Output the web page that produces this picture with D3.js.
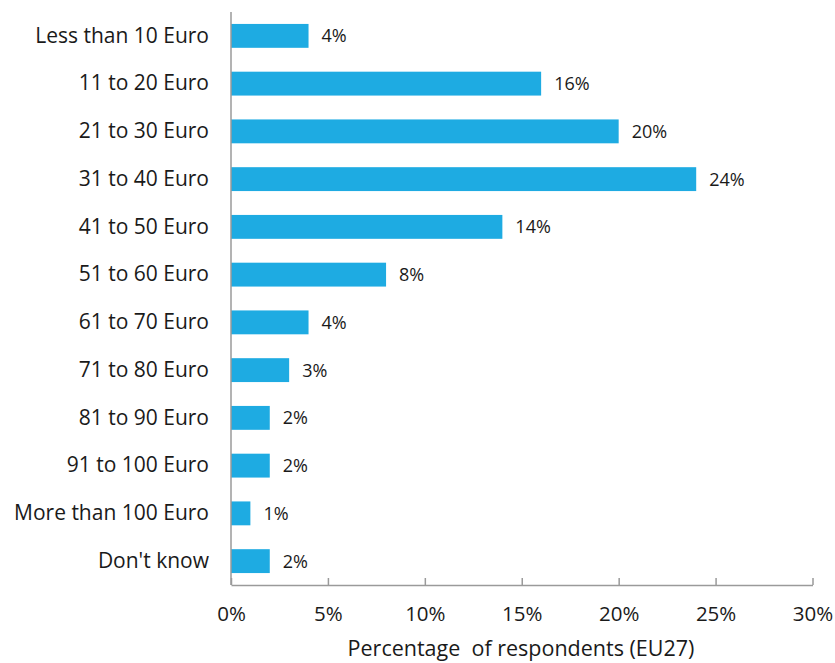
<!DOCTYPE html>
<html>
<head>
<meta charset="utf-8">
<script src="https://cdn.jsdelivr.net/npm/d3@7"></script>
<style>
  html, body { margin: 0; padding: 0; background: #fff; }
  svg text { font-family: "Open Sans", "Noto Sans", sans-serif; fill: #1a1a1a; }
</style>
</head>
<body>
<svg id="chart" width="835" height="663"></svg>
<script>
const categories = [
  "Less than 10 Euro", "11 to 20 Euro", "21 to 30 Euro", "31 to 40 Euro",
  "41 to 50 Euro", "51 to 60 Euro", "61 to 70 Euro", "71 to 80 Euro",
  "81 to 90 Euro", "91 to 100 Euro", "More than 100 Euro", "Don't know"
];
const values = [4, 16, 20, 24, 14, 8, 4, 3, 2, 2, 1, 2];
const tickValues = [0, 5, 10, 15, 20, 25, 30];
const axisTitle = "Percentage\u00a0 of respondents (EU27)";

const svg = d3.select("#chart");
const plot = { left: 231, right: 812.5, top: 12, bottom: 585 };

const x = d3.scaleLinear().domain([0, 30]).range([plot.left, plot.right]);
const y = d3.scaleBand().domain(categories).range([plot.top, plot.bottom]).paddingInner(0.5).paddingOuter(0.25);

// bars
svg.append("g").selectAll("rect")
  .data(values)
  .join("rect")
  .attr("x", x(0))
  .attr("y", (d, i) => y(categories[i]))
  .attr("width", d => x(d) - x(0))
  .attr("height", y.bandwidth())
  .attr("fill", "#1eabe2");

// value labels
svg.append("g").selectAll("text")
  .data(values)
  .join("text")
  .attr("x", d => x(d) + 13)
  .attr("y", (d, i) => y(categories[i]) + y.bandwidth() / 2)
  .attr("dy", "0.36em")
  .attr("font-size", 18)
  .text(d => d + "%");

// category axis
const yAxis = svg.append("g")
  .attr("transform", `translate(${plot.left},0)`)
  .call(d3.axisLeft(y).tickSize(0).tickPadding(22));
yAxis.select(".domain").attr("stroke", "#9a9a9a").attr("stroke-width", 1.5)
  .attr("d", `M0,${plot.top}V${plot.bottom}`);
yAxis.selectAll("text").attr("font-size", 21).attr("fill", "#1a1a1a");

// value axis with upward ticks
const xAxis = svg.append("g")
  .attr("transform", `translate(0,${plot.bottom})`)
  .call(d3.axisBottom(x).tickValues(tickValues).tickFormat(d => d + "%").tickSize(-7).tickSizeOuter(0).tickPadding(21));
xAxis.select(".domain").attr("stroke", "#9a9a9a").attr("stroke-width", 1.5);
xAxis.selectAll(".tick line").attr("stroke", "#9a9a9a").attr("stroke-width", 1.5);
xAxis.selectAll("text").attr("font-size", 20.5).attr("fill", "#1a1a1a");

// axis title
svg.append("text")
  .attr("x", 521)
  .attr("y", 656)
  .attr("text-anchor", "middle")
  .attr("font-size", 21.5)
  .text(axisTitle);
</script>
</body>
</html>
